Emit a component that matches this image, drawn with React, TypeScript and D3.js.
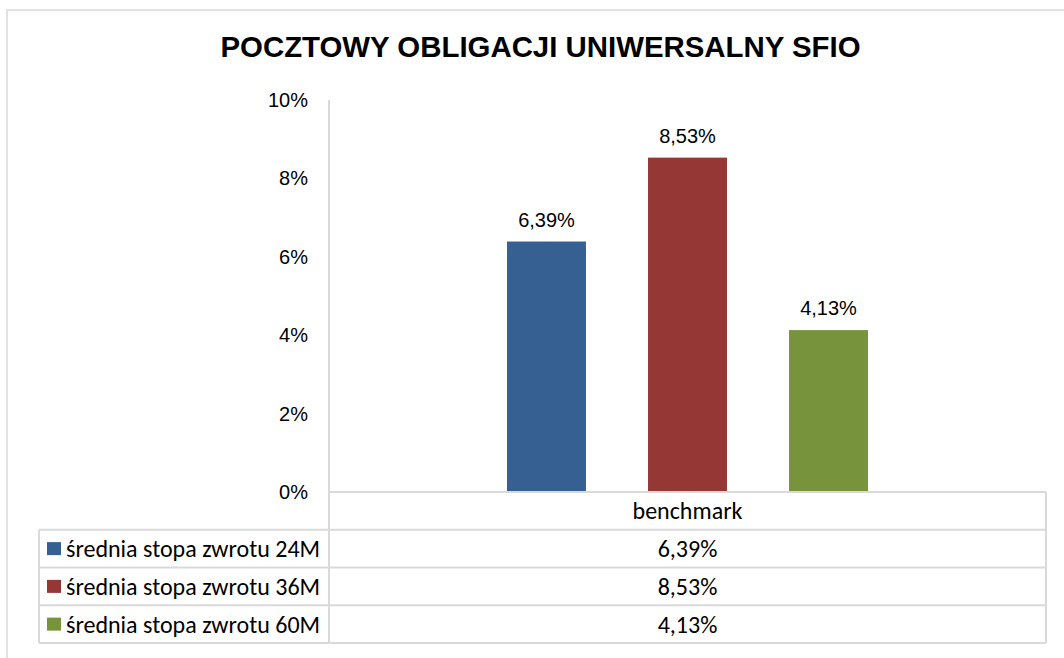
import * as d3 from "d3";

const title = "POCZTOWY OBLIGACJI UNIWERSALNY SFIO";
const categories = ["benchmark"];
const seriesNames = [
  "średnia stopa zwrotu 24M",
  "średnia stopa zwrotu 36M",
  "średnia stopa zwrotu 60M",
];
const seriesValues = [6.39, 8.53, 4.13];
const seriesLabels = ["6,39%", "8,53%", "4,13%"];
const seriesColors = ["#376092", "#953735", "#77933c"];
const yTicks = [0, 2, 4, 6, 8, 10];
const yTickLabels = ["0%", "2%", "4%", "6%", "8%", "10%"];

const W = 1064;
const H = 658;
const plot = { left: 329, right: 1046, top: 100, bottom: 492 };
const tableLeft = 39;
const rowH = 37.75;
const gridColor = "#d9d9d9";
const tableFont = "Carlito, Lato, sans-serif";
const tableSize = 24;
const chartFont = "'Liberation Sans', Arial, sans-serif";

export default function App() {
  const y = d3.scaleLinear().domain([0, 10]).range([plot.bottom, plot.top]);
  const x0 = d3
    .scaleBand()
    .domain(categories)
    .range([plot.left, plot.right])
    .padding(0);
  const x1 = d3
    .scaleBand()
    .domain(seriesNames)
    .range([0, x0.bandwidth()])
    .paddingInner(0.44)
    .paddingOuter(1.2625);

  const rowY = (i: number) => plot.bottom + rowH * (i + 1);
  const tableBottom = rowY(seriesNames.length);

  return (
    <svg
      width={W}
      height={H}
      style={{ position: "absolute", left: 0, top: 0, background: "#fff" }}
    >
      <rect x={0} y={0} width={W} height={H} fill="#fff" />
      {/* chart frame */}
      <rect
        x={7}
        y={10}
        width={1200}
        height={800}
        fill="none"
        stroke={gridColor}
        strokeWidth={1.5}
      />

      <text
        x={540.5}
        y={57}
        textAnchor="middle"
        fontFamily={chartFont}
        fontWeight="bold"
        fontSize={29.4}
        fill="#000"
      >
        {title}
      </text>

      {/* y tick labels */}
      {yTicks.map((t, i) => (
        <text
          key={t}
          x={308}
          y={y(t)}
          dy="0.35em"
          textAnchor="end"
          fontFamily={chartFont}
          fontSize={20}
          fill="#000"
        >
          {yTickLabels[i]}
        </text>
      ))}

      {/* bars */}
      {categories.map((c) => (
        <g key={c} transform={`translate(${x0(c)},0)`}>
          {seriesNames.map((s, i) => (
            <g key={s}>
              <rect
                x={x1(s)}
                y={y(seriesValues[i])}
                width={x1.bandwidth()}
                height={y(0) - y(seriesValues[i])}
                fill={seriesColors[i]}
              />
              <text
                x={(x1(s) ?? 0) + x1.bandwidth() / 2}
                y={y(seriesValues[i]) - 15}
                textAnchor="middle"
                fontFamily={chartFont}
                fontSize={20}
                fill="#000"
              >
                {seriesLabels[i]}
              </text>
            </g>
          ))}
        </g>
      ))}

      {/* data table grid */}
      <g stroke={gridColor} strokeWidth={2} fill="none">
        <line x1={plot.left} x2={plot.left} y1={plot.top} y2={tableBottom} />
        <line x1={plot.left} x2={plot.right} y1={plot.bottom} y2={plot.bottom} />
        <line x1={plot.right} x2={plot.right} y1={plot.bottom} y2={tableBottom} />
        <line x1={tableLeft} x2={tableLeft} y1={rowY(0)} y2={tableBottom} />
        {seriesNames.map((s, i) => (
          <line key={s} x1={tableLeft} x2={plot.right} y1={rowY(i)} y2={rowY(i)} />
        ))}
        <line x1={tableLeft} x2={plot.right} y1={tableBottom} y2={tableBottom} />
      </g>

      {categories.map((c) => (
        <text
          key={c}
          x={(x0(c) ?? 0) + x0.bandwidth() / 2}
          y={plot.bottom + rowH / 2}
          dy="0.35em"
          textAnchor="middle"
          fontFamily={tableFont}
          fontSize={tableSize}
          fill="#000"
        >
          {c}
        </text>
      ))}

      {seriesNames.map((s, i) => {
        const cy = rowY(i) + rowH / 2;
        return (
          <g key={s}>
            <rect x={47} y={cy - 6.5} width={14} height={13} fill={seriesColors[i]} />
            <text
              x={66}
              y={cy}
              dy="0.35em"
              fontFamily={tableFont}
              fontSize={tableSize}
              fill="#000"
            >
              {s}
            </text>
            {categories.map((c) => (
              <text
                key={c}
                x={(x0(c) ?? 0) + x0.bandwidth() / 2}
                y={cy}
                dy="0.35em"
                textAnchor="middle"
                fontFamily={tableFont}
                fontSize={tableSize}
                fill="#000"
              >
                {seriesLabels[i]}
              </text>
            ))}
          </g>
        );
      })}
    </svg>
  );
}
